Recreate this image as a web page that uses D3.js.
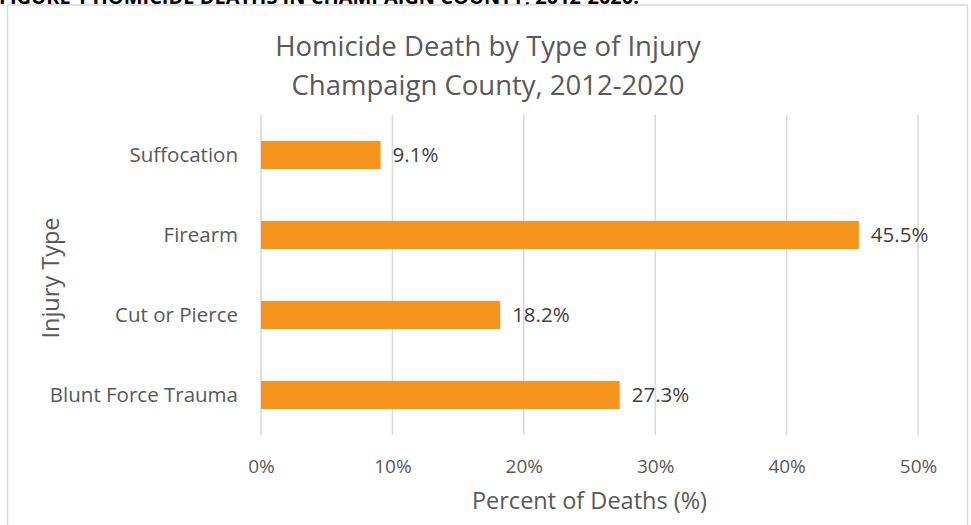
<!DOCTYPE html>
<html>
<head>
<meta charset="utf-8">
<script src="https://cdn.jsdelivr.net/npm/d3@7"></script>
<style>
  body { margin: 0; background: #fff; }
  svg { display: block; font-family: "Open Sans", Lato, sans-serif; }
</style>
</head>
<body>
<div class="canvas"></div>
<script>
// data
const categories = ['Suffocation', 'Firearm', 'Cut or Pierce', 'Blunt Force Trauma'];
const values = [9.1, 45.5, 18.2, 27.3];
const xTicks = [0, 10, 20, 30, 40, 50];

const W = 971, H = 525;
const font = '"Open Sans", Lato, sans-serif';

const svg = d3.select('.canvas')
    .append('svg')
    .attr('width', W)
    .attr('height', H);

// caption from the page above, cut off at the top
svg.append('text')
    .attr('x', -1)
    .attr('y', 4)
    .attr('font-size', 20)
    .attr('font-weight', 'bold')
    .attr('fill', '#000')
    .text('FIGURE 1 HOMICIDE DEATHS IN CHAMPAIGN COUNTY, 2012-2020.');

// chart frame
svg.append('rect')
    .attr('x', 7.5).attr('y', 5)
    .attr('width', 960).attr('height', 540)
    .attr('fill', '#fff')
    .attr('stroke', '#d9d9d9')
    .attr('stroke-width', 1.5);

const plot = { left: 261, right: 918, top: 115, bottom: 435 };

const x = d3.scaleLinear()
    .domain([0, 50])
    .range([plot.left, plot.right]);

const y = d3.scaleBand()
    .domain(categories)
    .range([plot.top, plot.bottom])
    .paddingInner(0.65)
    .paddingOuter(0.325);

// gridlines
svg.append('g')
    .selectAll('line')
    .data(xTicks)
    .enter()
    .append('line')
    .attr('x1', d => x(d)).attr('x2', d => x(d))
    .attr('y1', plot.top).attr('y2', plot.bottom)
    .attr('stroke', '#d9d9d9')
    .attr('stroke-width', 1.5);

// x axis (labels only)
const xAxis = d3.axisBottom(x)
    .tickValues(xTicks)
    .tickSize(0)
    .tickPadding(0)
    .tickFormat(d => d + '%');

const xAxisGroup = svg.append('g')
    .attr('transform', `translate(0, 473)`)
    .call(xAxis);
xAxisGroup.select('.domain').remove();
xAxisGroup.selectAll('text')
    .attr('dy', 0)
    .attr('font-family', font)
    .attr('font-size', 19)
    .attr('fill', '#595959');

// y axis (labels only)
const yAxis = d3.axisLeft(y).tickSize(0).tickPadding(23);
const yAxisGroup = svg.append('g')
    .attr('transform', `translate(${plot.left}, 0)`)
    .call(yAxis);
yAxisGroup.select('.domain').remove();
yAxisGroup.selectAll('text')
    .attr('dy', '0.35em')
    .attr('font-family', font)
    .attr('font-size', 20.5)
    .attr('fill', '#595959');

// bars
svg.append('g')
    .selectAll('rect')
    .data(values)
    .enter()
    .append('rect')
    .attr('x', x(0))
    .attr('y', (d, i) => y(categories[i]))
    .attr('width', d => x(d) - x(0))
    .attr('height', y.bandwidth())
    .attr('fill', '#f7941d');

// value labels
svg.append('g')
    .selectAll('text')
    .data(values)
    .enter()
    .append('text')
    .attr('x', d => x(d) + 12)
    .attr('y', (d, i) => y(categories[i]) + y.bandwidth() / 2)
    .attr('dy', '0.35em')
    .attr('font-size', 20.5)
    .attr('fill', '#404040')
    .text(d => d.toFixed(1) + '%');

// title
const title = svg.append('text')
    .attr('text-anchor', 'middle')
    .attr('font-size', 27.5)
    .attr('fill', '#595959');
title.append('tspan').attr('x', 488).attr('y', 56).text('Homicide Death by Type of Injury');
title.append('tspan').attr('x', 488).attr('y', 95).text('Champaign County, 2012-2020');

// axis titles
svg.append('text')
    .attr('x', plot.left + (plot.right - plot.left) / 2)
    .attr('y', 509)
    .attr('text-anchor', 'middle')
    .attr('font-size', 23.5)
    .attr('fill', '#595959')
    .text('Percent of Deaths (%)');

svg.append('text')
    .attr('transform', 'translate(59, 278) rotate(-90)')
    .attr('text-anchor', 'middle')
    .attr('font-size', 23.5)
    .attr('fill', '#595959')
    .text('Injury Type');
</script>
</body>
</html>
